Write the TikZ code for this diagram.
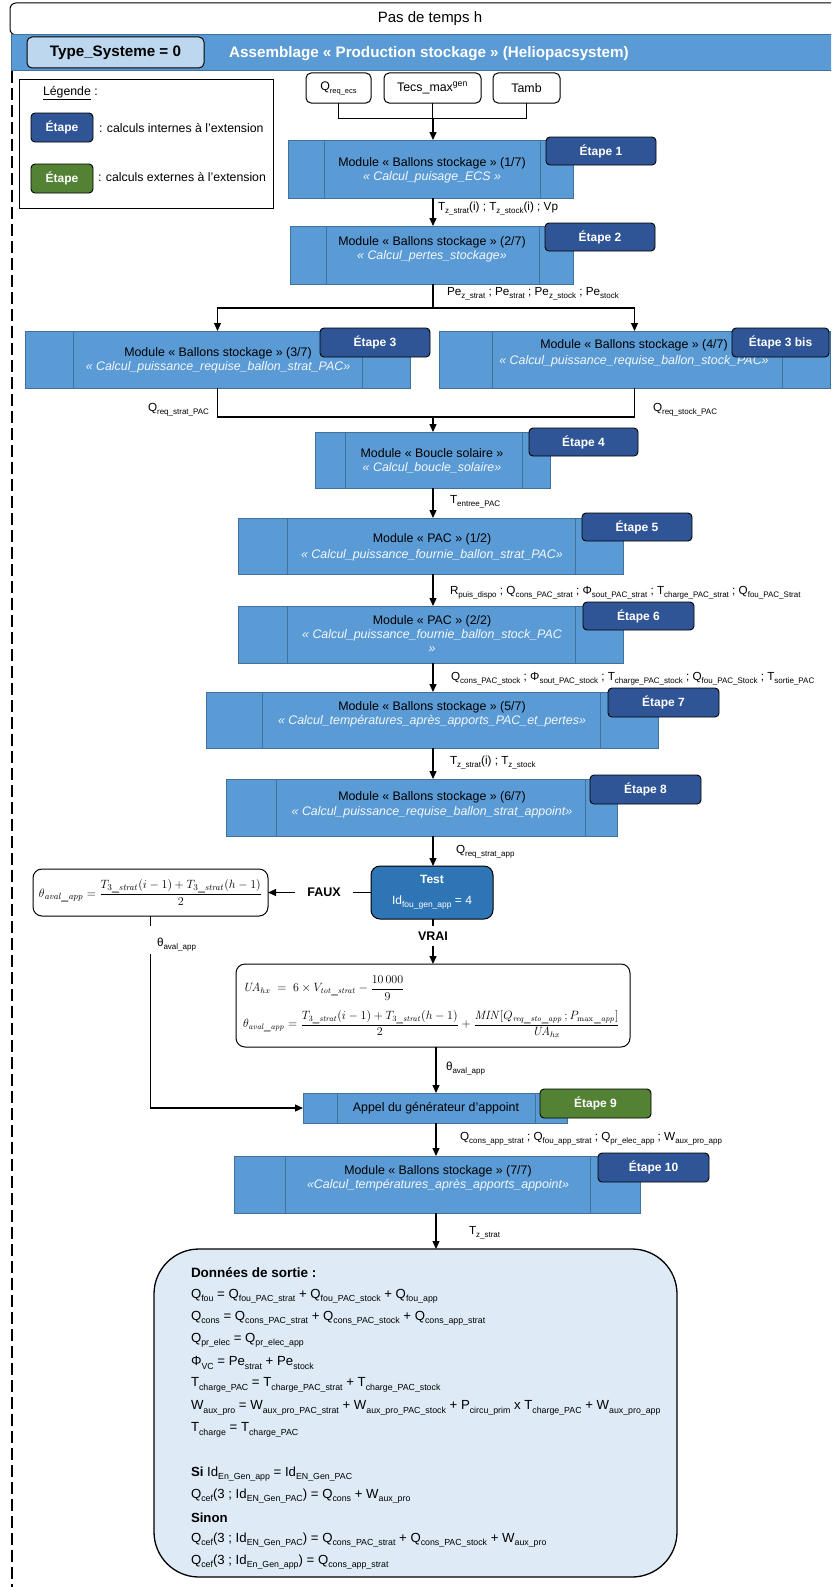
\documentclass[tikz,border=0pt]{standalone}
\usepackage[no-math]{fontspec}
\setmainfont{Liberation Sans}
\usetikzlibrary{arrows.meta,calc}
\definecolor{modfill}{HTML}{5B9BD5}
\definecolor{modborder}{HTML}{41719C}
\definecolor{etblue}{HTML}{2F5597}
\definecolor{etgreen}{HTML}{548235}
\definecolor{testblue}{HTML}{2E75B6}
\definecolor{typefill}{HTML}{BDD7EE}
\definecolor{outfill}{HTML}{DEEBF7}
\definecolor{italtext}{HTML}{F4F8FC}
\newcommand\subtx[2][8]{\raisebox{-0.25em}{\fontsize{#1}{#1}\selectfont #2}}
\newcommand\so[1]{\subtx[8.8]{#1}}
\newcommand\modbox[7]{%
  \node[module, minimum width={#4-#2}, minimum height={#5-#3}] (#1) at (#2,#3) {};
  \draw[modline] (#6,#3) -- (#6,#5);
  \draw[modline] (#7,#3) -- (#7,#5);}
\tikzset{
  every node/.style={inner sep=0pt, outer sep=0pt},
  module/.style={draw=modborder, fill=modfill, line width=0.8pt, anchor=north west, rectangle},
  modline/.style={draw=modborder, line width=0.8pt},
  modtxt/.style={font=\fontsize{12.4}{14}\selectfont, text=black},
  moditl/.style={font=\fontsize{12.4}{14}\selectfont\itshape, text=italtext},
  etape/.style={draw=black, line width=0.9pt, fill=etblue, rounded corners=4pt, text=white,
    font=\fontsize{12}{14}\selectfont\bfseries, anchor=north west},
  etapeg/.style={etape, fill=etgreen},
  lbl/.style={font=\fontsize{11.7}{13}\selectfont, anchor=west},
  arr/.style={line width=1.2pt, -{Triangle[length=8pt,width=7pt]}},
  conn/.style={line width=1.2pt},
  thinl/.style={line width=0.8pt},
  inbox/.style={draw=black, line width=1pt, rounded corners=5pt, fill=white, anchor=north west,
    font=\fontsize{12.4}{14}\selectfont},
  fbox/.style={draw=black, line width=1pt, rounded corners=9pt, fill=white, anchor=north west},
  outl/.style={font=\fontsize{13.2}{15}\selectfont, anchor=west},
  bigtxt/.style={font=\fontsize{15.2}{17}\selectfont\bfseries},
}
\begin{document}
\begin{tikzpicture}[x=1pt,y=-1pt]
\useasboundingbox (0,0) rectangle (831,1587);
\clip (0,0) rectangle (831,1587);
% header
\node[draw=black, line width=1pt, rounded corners=6pt, anchor=north west, minimum width=840, minimum height=32, fill=white,
  font=\fontsize{15}{17}\selectfont] (pdt) at (10,3) {Pas de temps h};
\node[fill=modfill, draw=modborder, line width=1pt, anchor=north west, minimum width=830, minimum height=36] (ban) at (11,35) {};
\node[draw=black, line width=1pt, fill=typefill, rounded corners=5pt, anchor=north west, minimum width=177, minimum height=31, bigtxt]
  (type) at (27,37) {Type\_Systeme = 0};
\node[bigtxt, text=white] (ttl) at (429,54) {Assemblage « Production stockage » (Heliopacsystem)};
\coordinate (dl) at (12,1587);
\draw[line width=1.2pt, dash pattern=on 12pt off 5pt] (ban.south west -| dl) -- (dl);
% legend
\node[draw=black, line width=1pt, fill=white, anchor=north west, minimum width=254, minimum height=129] (leg) at (19,79) {};
\node[font=\fontsize{12.3}{14}\selectfont, anchor=west] (legt) at (43,93) {\underline{Légende} :};
\node[etape, minimum width=62, minimum height=29] (lg1) at (31,113) {Étape};
\node[font=\fontsize{12.3}{14}\selectfont, anchor=west] (lg1t) at (99,128) {: calculs internes à l'extension};
\node[etapeg, minimum width=62, minimum height=29] (lg2) at (31,164) {Étape};
\node[font=\fontsize{12.3}{14}\selectfont, anchor=west] (lg2t) at (98,177) {: calculs externes à l'extension};
% inputs
\node[inbox, minimum width=65, minimum height=30] (q1) at (306,73) {Q\subtx[7.5]{req\_ecs}};
\node[inbox, minimum width=97, minimum height=30] (q2) at (384,73) {Tecs\_max\textsuperscript{gen}};
\node[inbox, minimum width=67, minimum height=30] (q3) at (493,73) {Tamb};
\coordinate (ax) at (433,0);
\coordinate (ax2) at (436,0);
\coordinate (jn) at (433,118);
\draw[thinl] (q1.south) |- (jn);
\draw[thinl] (q3.south) |- (jn);
\draw[thinl] (q2.south) -- (q2.south |- jn);
% module 1
\modbox{m1}{288}{140}{573}{198}{324}{540}
\node[modtxt] at (432,163) {Module « Ballons stockage » (1/7)};
\node[moditl] at (432,177) {« Calcul\_puisage\_ECS »};
\node[etape, minimum width=110, minimum height=28] (e1) at (546,137) {Étape 1};
\draw[arr] (jn) -- (m1.north -| jn);
% module 2
\modbox{m2}{290}{226}{573}{284}{326}{539}
\node[modtxt] at (432,242) {Module « Ballons stockage » (2/7)};
\node[moditl] at (432,256) {« Calcul\_pertes\_stockage»};
\node[etape, minimum width=110, minimum height=28] (e2) at (545,223) {Étape 2};
\draw[arr] (m1.south -| ax) -- (m2.north -| ax);
\node[lbl] (l1) at (438,209) {T\subtx{z\_strat}(i) ; T\subtx{z\_stock}(i) ; Vp};
\node[lbl] (l2) at (447,294) {Pe\subtx{z\_strat} ; Pe\subtx{strat} ; Pe\subtx{z\_stock} ; Pe\subtx{stock}};
% modules 3 and 4
\modbox{m3}{25}{331}{410}{388}{73}{362}
\node[modtxt] at (218,353) {Module « Ballons stockage » (3/7)};
\node[moditl] at (218,367) {« Calcul\_puissance\_requise\_ballon\_strat\_PAC»};
\node[etape, minimum width=110, minimum height=29] (e3) at (320,328) {Étape 3};
\modbox{m4}{439}{331}{830}{388}{492}{782}
\node[modtxt] at (634,345) {Module « Ballons stockage » (4/7)};
\node[moditl] at (634,361) {« Calcul\_puissance\_requise\_ballon\_stock\_PAC»};
\node[etape, minimum width=97, minimum height=29] (e3b) at (732,328) {Étape 3 bis};
\coordinate (sp) at (433,308);
\draw[conn] (m2.south -| ax) -- (sp);
\draw[arr] (sp) -| (m3.north);
\draw[arr] (sp) -| (m4.north);
\coordinate (mg) at (433,417);
\draw[conn] (m3.south) |- (mg);
\draw[conn] (m4.south) |- (mg);
\node[lbl, anchor=east] (l3) at (209,410) {Q\subtx{req\_strat\_PAC}};
\node[lbl] (l4) at (653,410) {Q\subtx{req\_stock\_PAC}};
% module 5 boucle
\modbox{m5}{315}{432}{550}{488}{345}{522}
\node[modtxt] at (432,453) {Module « Boucle solaire »};
\node[moditl] at (432,468) {« Calcul\_boucle\_solaire»};
\node[etape, minimum width=109, minimum height=28] (e4) at (529,428) {Étape 4};
\draw[arr] (mg) -- (m5.north -| ax);
\node[lbl] (l5) at (450,502) {T\subtx{entree\_PAC}};
% module 6 PAC 1
\modbox{m6}{238}{518}{623}{574}{287}{575}
\node[modtxt] at (432,539) {Module « PAC » (1/2)};
\node[moditl] at (432,555) {« Calcul\_puissance\_fournie\_ballon\_strat\_PAC»};
\node[etape, minimum width=110, minimum height=28] (e5) at (582,513) {Étape 5};
\draw[arr] (m5.south -| ax) -- (m6.north -| ax);
\node[lbl] (l6) at (450,593) {R\subtx{puis\_dispo} ; Q\subtx{cons\_PAC\_strat} ; Φ\subtx{sout\_PAC\_strat} ; T\subtx{charge\_PAC\_strat} ; Q\subtx{fou\_PAC\_Strat}};
% module 7 PAC 2
\modbox{m7}{238}{606}{623}{663}{287}{575}
\node[modtxt] at (432,621) {Module « PAC » (2/2)};
\node[moditl] at (432,635) {« Calcul\_puissance\_fournie\_ballon\_stock\_PAC};
\node[moditl] at (432,650) {»};
\node[etape, minimum width=111, minimum height=28] (e6) at (583,602) {Étape 6};
\draw[arr] (m6.south -| ax) -- (m7.north -| ax);
\node[lbl] (l7) at (451,679) {Q\subtx{cons\_PAC\_stock} ; Φ\subtx{sout\_PAC\_stock} ; T\subtx{charge\_PAC\_stock} ; Q\subtx{fou\_PAC\_Stock} ; T\subtx{sortie\_PAC}};
% module 8
\modbox{m8}{206}{692}{658}{748}{262}{600}
\node[modtxt] at (432,707) {Module « Ballons stockage » (5/7)};
\node[moditl] at (432,721) {« Calcul\_températures\_après\_apports\_PAC\_et\_pertes»};
\node[etape, minimum width=111, minimum height=29] (e7) at (608,688) {Étape 7};
\draw[arr] (m7.south -| ax) -- (m8.north -| ax);
\node[lbl] (l8) at (450,763) {T\subtx{z\_strat}(i) ; T\subtx{z\_stock}};
% module 9
\modbox{m9}{226}{779}{617}{836}{276}{585}
\node[modtxt] at (432,797) {Module « Ballons stockage » (6/7)};
\node[moditl] at (432,812) {« Calcul\_puissance\_requise\_ballon\_strat\_appoint»};
\node[etape, minimum width=111, minimum height=29] (e8) at (590,775) {Étape 8};
\draw[arr] (m8.south -| ax) -- (m9.north -| ax);
\node[lbl] (l9) at (456,852) {Q\subtx{req\_strat\_app}};
% test
\node[draw=black, line width=1pt, fill=testblue, rounded corners=9pt, anchor=north west, minimum width=122, minimum height=53,
  text=white, align=center, font=\fontsize{12}{14}\selectfont] (test) at (371,866)
  {\textbf{Test}\\[7pt]Id\subtx[8.5]{fou\_gen\_app} = 4};
\draw[arr] (m9.south -| ax) -- (test.north -| ax);
\node[fbox, minimum width=235, minimum height=47] (f1) at (33,869) {};
\node[font=\fontsize{12.4}{14}\selectfont] (f1t) at (f1.center)
  {$\theta_{\mathit{aval\_app}}=\displaystyle\frac{T_{3\_\mathit{strat}}(i-1)+T_{3\_\mathit{strat}}(h-1)}{2}$};
\node[font=\fontsize{12.5}{14}\selectfont\bfseries, inner xsep=12pt] (faux) at ($(test.west)+(-47,0)$) {FAUX};
\draw[conn] (test.west) -- (faux.east);
\draw[arr] (faux.west) -- (f1.east);
\node[font=\fontsize{12.5}{14}\selectfont\bfseries, inner ysep=6pt] (vrai) at (433,936) {VRAI};
\draw[conn] (test.south -| ax) -- (vrai.north);
\node[fbox, minimum width=394, minimum height=83] (f2) at (236,964) {};
\draw[arr] (vrai.south) -- (f2.north -| vrai);
\node[font=\fontsize{11.8}{14}\selectfont, anchor=west] (f2a) at (243,988)
  {$\mathit{UA}_{hx}\;=\;6\times V_{\mathit{tot\_strat}}-\displaystyle\frac{10\,000}{9}$};
\node[font=\fontsize{11.6}{14}\selectfont, anchor=west] (f2b) at (243,1024)
  {$\theta_{\mathit{aval\_app}}=\displaystyle\frac{T_{3\_\mathit{strat}}(i-1)+T_{3\_\mathit{strat}}(h-1)}{2}+\frac{\mathit{MIN}\bigl[Q_{\mathit{req\_sto\_app}}\,;P_{\max\_\mathit{app}}\bigr]}{\mathit{UA}_{hx}}$};
\node[lbl] (th1) at (157,945) {θ\subtx{aval\_app}};
\node[lbl] (th2) at (446,1069) {θ\subtx{aval\_app}};
% module 10 appel
\modbox{m10}{303}{1093}{567}{1123}{337}{535}
\node[modtxt] at (436,1108) {Appel du générateur d'appoint};
\node[etapeg, minimum width=111, minimum height=29] (e9) at (540,1089) {Étape 9};
\draw[arr] (f2.south -| ax2) -- (m10.north -| ax2);
\coordinate (g1) at ($(f1.south)+(0,10)$);
\coordinate (g2) at ($(f1.south)+(0,38)$);
\draw[conn] (f1.south) -- (g1);
\draw[arr] (g2) |- (m10.west);
\node[lbl] (l10) at (460,1139) {Q\subtx{cons\_app\_strat} ; Q\subtx{fou\_app\_strat} ; Q\subtx{pr\_elec\_app} ; W\subtx{aux\_pro\_app}};
% module 11
\modbox{m11}{234}{1156}{640}{1213}{285}{590}
\node[modtxt] at (438,1171) {Module « Ballons stockage » (7/7)};
\node[moditl] at (438,1185) {«Calcul\_températures\_après\_apports\_appoint»};
\node[etape, minimum width=111, minimum height=29] (e10) at (598,1153) {Étape 10};
\draw[arr] (m10.south -| ax2) -- (m11.north -| ax2);
\node[lbl] (l11) at (469,1233) {T\subtx{z\_strat}};
% output
\node[draw=black, line width=1.3pt, fill=outfill, rounded corners=45pt, anchor=north west, minimum width=523, minimum height=328] (out) at (154,1249) {};
\draw[arr] (m11.south -| ax2) -- (out.north -| ax2);
\node[outl, font=\fontsize{13.5}{15}\selectfont\bfseries] (o0) at (191,1273) {Données de sortie :};
\node[outl] (o1) at (191,1296) {Q\so{fou} = Q\so{fou\_PAC\_strat} + Q\so{fou\_PAC\_stock} + Q\so{fou\_app}};
\node[outl] (o2) at (191,1318) {Q\so{cons} = Q\so{cons\_PAC\_strat} + Q\so{cons\_PAC\_stock} + Q\so{cons\_app\_strat}};
\node[outl] (o3) at (191,1340) {Q\so{pr\_elec} = Q\so{pr\_elec\_app}};
\node[outl] (o4) at (191,1363) {Φ\so{VC} = Pe\so{strat} + Pe\so{stock}};
\node[outl] (o5) at (191,1385) {T\so{charge\_PAC} = T\so{charge\_PAC\_strat} + T\so{charge\_PAC\_stock}};
\node[outl] (o6) at (191,1408) {W\so{aux\_pro} = W\so{aux\_pro\_PAC\_strat} + W\so{aux\_pro\_PAC\_stock} + P\so{circu\_prim} x T\so{charge\_PAC} + W\so{aux\_pro\_app}};
\node[outl] (o7) at (191,1430) {T\so{charge} = T\so{charge\_PAC}};
\node[outl] (o8) at (191,1474) {\textbf{Si} Id\so{En\_Gen\_app} = Id\so{EN\_Gen\_PAC}};
\node[outl] (o9) at (191,1496) {Q\so{cef}(3 ; Id\so{EN\_Gen\_PAC}) = Q\so{cons} + W\so{aux\_pro}};
\node[outl] (o10) at (191,1518) {\textbf{Sinon}};
\node[outl] (o11) at (191,1540) {Q\so{cef}(3 ; Id\so{EN\_Gen\_PAC}) = Q\so{cons\_PAC\_strat} + Q\so{cons\_PAC\_stock} + W\so{aux\_pro}};
\node[outl] (o12) at (191,1562) {Q\so{cef}(3 ; Id\so{En\_Gen\_app}) = Q\so{cons\_app\_strat}};
\end{tikzpicture}
\end{document}
